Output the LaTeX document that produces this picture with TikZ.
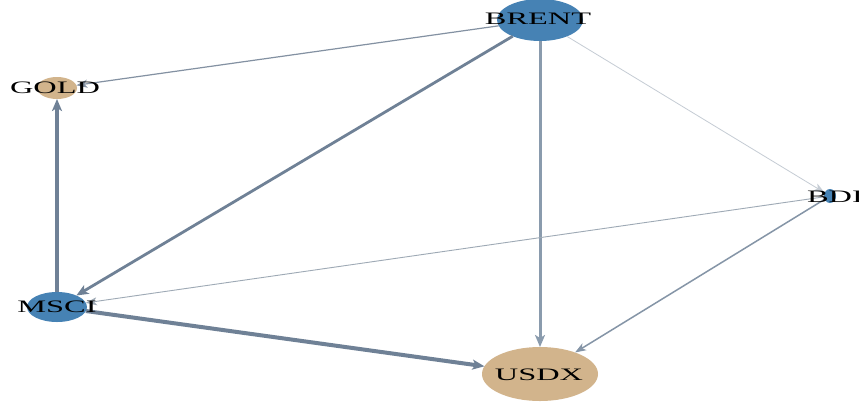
\documentclass[tikz,border=0pt]{standalone}
\usepackage{fontspec}
\setmainfont{Liberation Serif}
\usetikzlibrary{arrows.meta,shapes.geometric}
\definecolor{nblue}{HTML}{4682B4}
\definecolor{ntan}{HTML}{D2B48C}
\definecolor{eA}{HTML}{6F8196}
\definecolor{eB}{HTML}{8A9BAD}
\definecolor{eC}{HTML}{8391A2}
\definecolor{eD}{HTML}{C5CCD4}
\definecolor{eE}{HTML}{9EA9B5}
\definecolor{eF}{HTML}{8595A7}
\tikzset{
  nd/.style={ellipse, inner sep=0pt, outer sep=0pt, draw=none},
  bnode/.style={nd, fill=nblue},
  tnode/.style={nd, fill=ntan},
  lbl/.style={inner sep=0pt, font=\fontsize{17.5}{19}\selectfont, text=black},
  edg/.style={-{Stealth[length=12pt,width=10pt,inset=3pt]}},
  thinedg/.style={-{Stealth[length=11pt,width=8pt,inset=3pt]}},
}
\newcommand{\wide}[1]{\scalebox{1.85}[1]{#1}}
\begin{document}
\begin{tikzpicture}[x=1pt,y=-1pt]
\useasboundingbox (0,0) rectangle (859,405);
\fill[white] (0,0) rectangle (859,405);
% nodes
\node[bnode, minimum width=86pt, minimum height=42pt] (brent) at (540,20) {};
\node[tnode, minimum width=40pt, minimum height=22pt] (gold) at (57,88) {};
\node[bnode, minimum width=12pt, minimum height=14pt] (bdi) at (830,196) {};
\node[bnode, minimum width=60pt, minimum height=30pt] (msci) at (57,307) {};
\node[tnode, minimum width=116pt, minimum height=54pt] (usdx) at (540,374) {};
% edges
\draw[thinedg, eC, line width=1.2pt] (brent) -- (gold);
\draw[edg, eA, line width=2.8pt] (brent) -- (msci);
\draw[edg, eB, line width=3pt] (brent) -- (usdx);
\draw[thinedg, eD, line width=0.8pt] (brent) -- (bdi);
\draw[thinedg, eE, line width=0.9pt] (bdi) -- (msci);
\draw[thinedg, eF, line width=1.5pt] (bdi) -- (usdx);
\draw[edg, eA, line width=3.2pt] (msci) -- (gold);
\draw[edg, eA, line width=4pt] (msci) -- (usdx);
% labels
\node[lbl] (tbrent) at (538,19) {\wide{BRENT}};
\node[lbl] (tgold) at (55,88) {\wide{GOLD}};
\node[lbl] (tbdi) at (835,197) {\wide{BDI}};
\node[lbl] (tmsci) at (57,307) {\wide{MSCI}};
\node[lbl] (tusdx) at (539,375) {\wide{USDX}};
\end{tikzpicture}
\end{document}
